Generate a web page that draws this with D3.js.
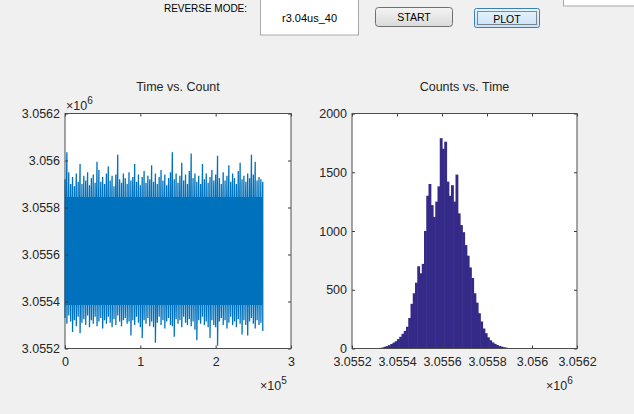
<!DOCTYPE html>
<html lang="en">
<head>
    <meta charset="UTF-8">
    <script src="https://cdn.jsdelivr.net/npm/d3@7"></script>
    <title>Time vs. Count</title>
    <style>
        body { margin: 0; background: #f0f0f0; }
        text { font-family: "Liberation Sans", Arial, sans-serif; fill: #262626; }
        .ui text { fill: #000; }
    </style>
</head>
<body>
    <svg id="fig" width="634" height="414"></svg>

    <script>
        // ---- data ----
        // left plot: per column of 2500 samples, the highest and lowest value reached
        const sampleStep = 2500;
        const countHi = [
            3055920, 3056035, 3055950, 3055900, 3055930, 3055890, 3055945, 3055910, 3055985, 3055900,
            3055935, 3055915, 3055950, 3055895, 3055925, 3055940, 3055905, 3055995, 3055960, 3055910,
            3055930, 3055900, 3055945, 3055975, 3055915, 3055935, 3055890, 3055940, 3056025, 3055920,
            3055905, 3055945, 3055925, 3055900, 3055950, 3055915, 3055930, 3055985, 3055910, 3055940,
            3055895, 3055930, 3055955, 3055905, 3055935, 3055920, 3055980, 3055910, 3055945, 3055900,
            3055930, 3055960, 3055915, 3055940, 3055895, 3055925, 3055950, 3056035, 3055920, 3055945,
            3055905, 3055935, 3055990, 3055915, 3055940, 3055900, 3055955, 3056030, 3055925, 3055945,
            3055910, 3055935, 3055900, 3055985, 3055920, 3055945, 3055905, 3055930, 3055960, 3055915,
            3055940, 3056020, 3055925, 3055900, 3055950, 3055915, 3055935, 3055980, 3055910, 3055945,
            3055925, 3055900, 3055955, 3055990, 3055920, 3055935, 3055910, 3055945, 3055925, 3056025,
            3055940, 3055995, 3055915, 3055930, 3055920, 3055910
        ];
        const countLo = [
            3055330, 3055305, 3055340, 3055315, 3055270, 3055320, 3055295, 3055335, 3055265, 3055310,
            3055325, 3055300, 3055340, 3055290, 3055320, 3055305, 3055335, 3055295, 3055315, 3055330,
            3055285, 3055320, 3055305, 3055335, 3055310, 3055290, 3055325, 3055300, 3055340, 3055315,
            3055295, 3055320, 3055330, 3055305, 3055315, 3055255, 3055320, 3055300, 3055335, 3055310,
            3055290, 3055245, 3055320, 3055305, 3055330, 3055295, 3055315, 3055290, 3055225, 3055310,
            3055335, 3055300, 3055320, 3055285, 3055315, 3055330, 3055300, 3055295, 3055250, 3055325,
            3055305, 3055320, 3055290, 3055335, 3055310, 3055300, 3055325, 3055295, 3055315, 3055280,
            3055235, 3055320, 3055305, 3055335, 3055300, 3055315, 3055290, 3055245, 3055320, 3055300,
            3055290, 3055212, 3055315, 3055330, 3055300, 3055320, 3055285, 3055310, 3055335, 3055300,
            3055315, 3055290, 3055325, 3055305, 3055260, 3055320, 3055300, 3055255, 3055315, 3055330,
            3055305, 3055285, 3055320, 3055300, 3055310, 3055275
        ];
        // solid core of the trace
        const coreTop = 3055845, coreBottom = 3055385;

        // right plot: histogram, bins of 10 starting at 3055250
        const binStart = 3055250, binWidth = 10;
        const binCounts = [
            1, 1, 2, 2, 3, 2, 3, 5, 8, 15, 20, 28, 38, 50, 62, 80, 100, 125, 150, 185,
            260, 380, 470, 560, 700, 640, 720, 1000, 1300, 1400, 1220, 1120, 1250, 1380, 1790, 1700,
            1760, 1420, 1300, 1390, 1250, 1480, 1150, 1050, 990, 880, 790, 690, 600, 470,
            390, 300, 230, 170, 130, 95, 70, 52, 40, 30, 22, 16, 11, 7, 4, 3, 2, 2, 1, 1,
            1, 1, 0, 1, 0, 1, 0, 1
        ];

        // ticks
        const leftXTicks = [0, 100000, 200000, 300000];
        const countTicks = [3055200, 3055400, 3055600, 3055800, 3056000, 3056200];
        const histYTicks = [0, 500, 1000, 1500, 2000];

        const svg = d3.select("#fig");

        // ---- top controls ----
        const ui = svg.append("g").attr("class", "ui");
        const defs = svg.append("defs");
        const g1 = defs.append("linearGradient").attr("id", "btnGray").attr("x2", 0).attr("y2", 1);
        g1.append("stop").attr("offset", 0).attr("stop-color", "#f4f4f4");
        g1.append("stop").attr("offset", 1).attr("stop-color", "#dadada");
        const g2 = defs.append("linearGradient").attr("id", "btnBlue").attr("x2", 0).attr("y2", 1);
        g2.append("stop").attr("offset", 0).attr("stop-color", "#e8f3fc");
        g2.append("stop").attr("offset", 1).attr("stop-color", "#c9e2f7");

        ui.append("text").attr("x", 164).attr("y", 12).attr("font-size", 10)
            .attr("textLength", 83).text("REVERSE MODE:");

        ui.append("rect").attr("x", 260.5).attr("y", -2).attr("width", 98).attr("height", 37)
            .attr("fill", "#fff").attr("stroke", "#a8a8a8");
        ui.append("text").attr("x", 309.5).attr("y", 22).attr("font-size", 11)
            .attr("text-anchor", "middle").text("r3.04us_40");

        ui.append("rect").attr("x", 375.5).attr("y", 7.5).attr("width", 77).attr("height", 19).attr("rx", 3)
            .attr("fill", "url(#btnGray)").attr("stroke", "#707070");
        ui.append("text").attr("x", 414).attr("y", 20.5).attr("font-size", 10.5)
            .attr("text-anchor", "middle").text("START");

        ui.append("rect").attr("x", 474.5).attr("y", 8.5).attr("width", 65).attr("height", 19).attr("rx", 2)
            .attr("fill", "url(#btnBlue)").attr("stroke", "#3c7fb1");
        ui.append("rect").attr("x", 477.5).attr("y", 11.5).attr("width", 59).attr("height", 13)
            .attr("fill", "none").attr("stroke", "#222").attr("stroke-dasharray", "1,1");
        ui.append("text").attr("x", 507).attr("y", 22.5).attr("font-size", 10.5)
            .attr("text-anchor", "middle").text("PLOT");

        ui.append("rect").attr("x", 563.5).attr("y", -3).attr("width", 80).attr("height", 9)
            .attr("fill", "#fff").attr("stroke", "#a8a8a8");

        // ---- axes helpers, MATLAB style box with inward ticks ----
        const plotTop = 113.5, plotBottom = 348.5;

        function drawAxes(x) {
            const g = svg.append("g");
            const [x0, x1] = x.range();
            g.append("rect").attr("x", x0).attr("y", plotTop)
                .attr("width", x1 - x0).attr("height", plotBottom - plotTop)
                .attr("fill", "#fff");
            return g;
        }

        function finishAxes(g, x, y, xTicks, yTicks, xFmt, yFmt, title, xExp, yExp) {
            const [x0, x1] = x.range();
            const fs = 12.5;

            g.append("g").attr("transform", `translate(0,${plotBottom})`)
                .call(d3.axisBottom(x).tickValues(xTicks).tickFormat(xFmt).tickSize(-3).tickSizeOuter(0).tickPadding(9));
            g.append("g").attr("transform", `translate(0,${plotTop})`)
                .call(d3.axisTop(x).tickValues(xTicks).tickFormat("").tickSize(-3).tickSizeOuter(0));
            g.append("g").attr("transform", `translate(${x0},0)`)
                .call(d3.axisLeft(y).tickValues(yTicks).tickFormat(yFmt).tickSize(-3).tickSizeOuter(0).tickPadding(5));
            g.append("g").attr("transform", `translate(${x1},0)`)
                .call(d3.axisRight(y).tickValues(yTicks).tickFormat("").tickSize(-3).tickSizeOuter(0));

            g.selectAll(".domain").remove();
            g.selectAll(".tick line").attr("stroke", "#3a3a3a");
            g.selectAll(".tick text").attr("font-size", fs).attr("fill", "#262626")
                .attr("font-family", "Liberation Sans, Arial, sans-serif");

            g.append("rect").attr("x", x0).attr("y", plotTop)
                .attr("width", x1 - x0).attr("height", plotBottom - plotTop)
                .attr("fill", "none").attr("stroke", "#4d4d4d").attr("stroke-width", 1);

            g.append("text").attr("x", (x0 + x1) / 2).attr("y", 91)
                .attr("text-anchor", "middle").attr("font-size", fs).text(title);

            const exp = (px, py, p) => {
                const t = g.append("text").attr("x", px).attr("y", py).attr("font-size", fs);
                t.append("tspan").text("\u00d710");
                t.append("tspan").attr("dy", -6).attr("font-size", 10).text(p);
            };
            if (xExp) exp(x1 - 31, 390, xExp);
            if (yExp) exp(x0 + 1, 110, yExp);
        }

        const expFmt = p => v => String(+(v / Math.pow(10, p)).toFixed(4));

        // ---- left: Time vs. Count ----
        const xL = d3.scaleLinear().domain([0, 300000]).range([65, 291]);
        const yL = d3.scaleLinear().domain([3055200, 3056200]).range([plotBottom, plotTop]);
        const gL = drawAxes(xL);

        const cols = countHi.map((h, i) => ({ t: i * sampleStep, hi: h, lo: countLo[i] }));

        gL.append("path")
            .datum(cols)
            .attr("fill", "#0072bd")
            .attr("d", d3.area().x(d => xL(d.t)).y0(yL(coreBottom)).y1(yL(coreTop)));

        // dense trace: each column swept from its high to its low
        const zig = [];
        cols.forEach(d => { zig.push([d.t, d.hi]); zig.push([d.t, d.lo]); });
        gL.append("path")
            .datum(zig)
            .attr("fill", "none")
            .attr("stroke", "#0072bd")
            .attr("stroke-width", 1.3)
            .attr("d", d3.line().x(d => xL(d[0])).y(d => yL(d[1])));

        finishAxes(gL, xL, yL, leftXTicks, countTicks, expFmt(5), expFmt(6), "Time vs. Count", "5", "6");

        // ---- right: Counts vs. Time ----
        const xR = d3.scaleLinear().domain([3055200, 3056200]).range([352, 577]);
        const yR = d3.scaleLinear().domain([0, 2000]).range([plotBottom, plotTop]);
        const gR = drawAxes(xR);

        gR.append("g").selectAll("rect")
            .data(binCounts)
            .enter()
            .append("rect")
            .attr("x", (d, i) => xR(binStart + i * binWidth))
            .attr("width", xR(binStart + binWidth) - xR(binStart) + 0.6)
            .attr("y", d => yR(d))
            .attr("height", d => yR(0) - yR(d))
            .attr("fill", "#352a87");

        finishAxes(gR, xR, yR, countTicks, histYTicks, expFmt(6), d3.format("d"), "Counts vs. Time", "6", null);
    </script>
</body>
</html>
